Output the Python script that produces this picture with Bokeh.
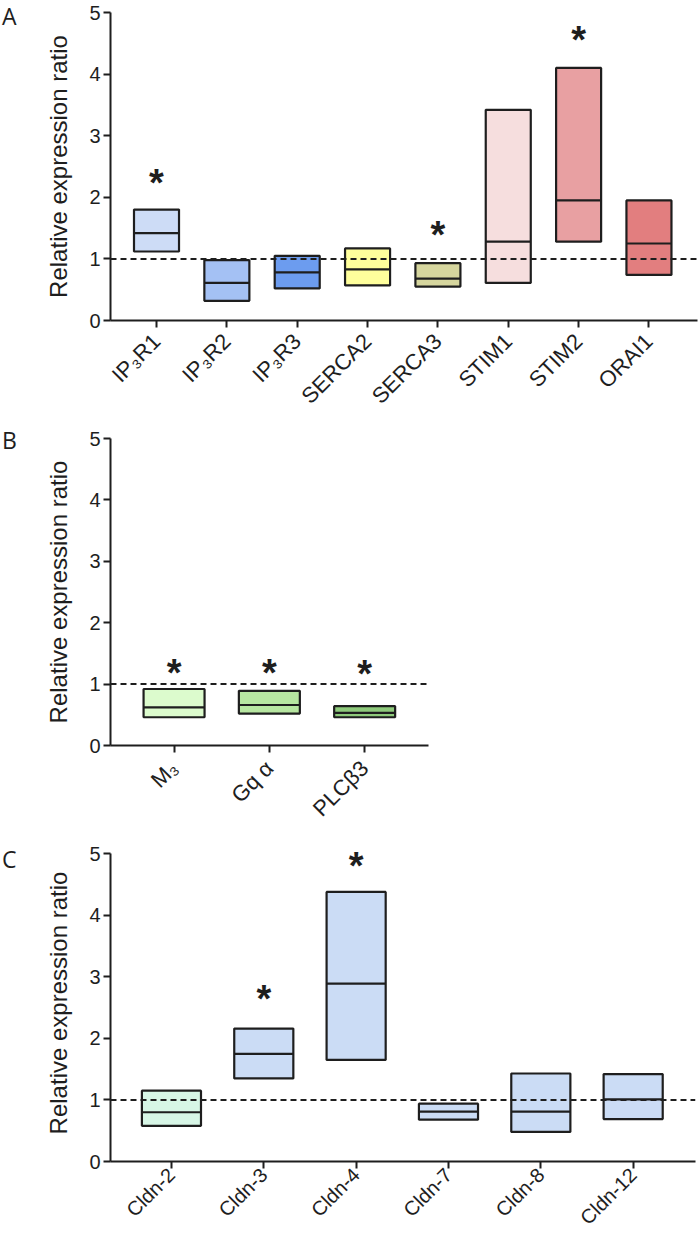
import math
from bokeh.plotting import figure
from bokeh.models import ColumnDataSource, Range1d, FixedTicker, Span, Div
from bokeh.layouts import column, row
from bokeh.core.properties import value
from bokeh.embed import file_html
from bokeh.resources import INLINE

# ---- Panel A: calcium signalling genes ----
genes_a = ["IP\u2083R1", "IP\u2083R2", "IP\u2083R3", "SERCA2", "SERCA3", "STIM1", "STIM2", "ORAI1"]
low_a = [1.12, 0.32, 0.52, 0.57, 0.55, 0.61, 1.28, 0.74]
mid_a = [1.42, 0.61, 0.78, 0.83, 0.68, 1.28, 1.95, 1.25]
high_a = [1.80, 0.98, 1.05, 1.17, 0.93, 3.42, 4.10, 1.95]
colors_a = ["#cddcf6", "#a4c1f4", "#6c9cef", "#ffff9c", "#d6d69e", "#f6dede", "#e8a0a2", "#e27e7f"]
star_a = [2.32, None, None, None, 1.47, None, 4.64, None]

# ---- Panel B: receptor / G-protein pathway ----
genes_b = ["M\u2083", "Gq \u03b1", "PLC\u03b23"]
low_b = [0.46, 0.52, 0.46]
mid_b = [0.62, 0.66, 0.53]
high_b = [0.92, 0.89, 0.64]
colors_b = ["#dcfbcd", "#b7e6a1", "#8fcb7c"]
star_b = [1.27, 1.27, 1.25]

# ---- Panel C: claudins ----
genes_c = ["Cldn-2", "Cldn-3", "Cldn-4", "Cldn-7", "Cldn-8", "Cldn-12"]
low_c = [0.58, 1.35, 1.65, 0.68, 0.48, 0.69]
mid_c = [0.80, 1.75, 2.89, 0.81, 0.81, 1.01]
high_c = [1.15, 2.16, 4.38, 0.94, 1.43, 1.42]
colors_c = ["#d7f6e6", "#cbdcf5", "#cbdcf5", "#cbdcf5", "#cbdcf5", "#cbdcf5"]
star_c = [None, 2.72, 4.89, None, None, None]

FONT = "Liberation Sans"
INK = "#1e1e1e"
BOX_W = 0.64
LETTER_W = 30
UNIT_PX = 61.6  # vertical pixels per unit of ratio


def panel(letter, letter_top, genes, low, mid, high, colors, stars, frame_w,
          pad_l, pad_r, height, top5, bottom, label_gap, label_size, y_max=5.0):
    n = len(genes)
    xs = list(range(n))
    x0, x1 = -pad_l, (n - 1) + pad_r
    frame_h = round(UNIT_PX * y_max)
    top = round(top5 - UNIT_PX * (y_max - 5))
    p = figure(width=80 + frame_w + 2, height=height,
               x_range=Range1d(x0, x1), y_range=Range1d(0, y_max),
               output_backend="svg", toolbar_location=None,
               min_border_left=80, min_border_right=2,
               min_border_top=top, min_border_bottom=bottom)
    p.outline_line_color = None
    p.xgrid.visible = False
    p.ygrid.visible = False
    p.background_fill_color = "white"

    # reference level at ratio = 1
    p.add_layout(Span(location=1, dimension="width", line_color=INK,
                      line_width=2, line_dash="6 4"))

    src = ColumnDataSource(dict(
        x=xs, low=low, mid=mid, high=high, color=colors,
        l=[x - BOX_W / 2 for x in xs], r=[x + BOX_W / 2 for x in xs]))
    p.vbar(x="x", width=BOX_W, bottom="low", top="high", source=src,
           fill_color="color", line_color=INK, line_width=2.2)
    p.segment(x0="l", x1="r", y0="mid", y1="mid", source=src,
              line_color=INK, line_width=2.2)

    sx = [x for x, s in zip(xs, stars) if s is not None]
    sy = [s for s in stars if s is not None]
    p.text(x=sx, y=sy, text=["*"] * len(sx), text_font=value(FONT),
           text_font_size="38px", text_font_style="bold", text_color=INK,
           text_align="center", text_baseline="middle", y_offset=5)

    # axes
    ya = p.yaxis[0]
    ya.bounds = (0, 5)
    ya.ticker = FixedTicker(ticks=[0, 1, 2, 3, 4, 5])
    ya.axis_label = "Relative expression ratio"
    ya.axis_label_text_font = FONT
    ya.axis_label_text_font_size = "24px"
    ya.axis_label_text_font_style = "normal"
    ya.axis_label_text_color = INK
    ya.axis_label_standoff = 14
    ya.major_label_text_font = FONT
    ya.major_label_text_font_size = "20px"
    ya.major_label_text_color = INK
    ya.major_label_standoff = 3

    xa = p.xaxis[0]
    xa.ticker = FixedTicker(ticks=xs)
    xa.major_label_overrides = {i: g for i, g in enumerate(genes)}
    xa.major_label_orientation = math.pi / 4
    xa.major_label_text_font = FONT
    xa.major_label_text_font_size = label_size
    xa.major_label_text_color = INK
    xa.major_label_standoff = label_gap

    for ax in (xa, ya):
        ax.axis_line_width = 2
        ax.axis_line_color = INK
        ax.major_tick_line_width = 2
        ax.major_tick_line_color = INK
        ax.major_tick_in = 0
        ax.major_tick_out = 7
        ax.minor_tick_line_color = None

    # panel letter in the left margin
    tag = Div(text=letter, width=LETTER_W - 2, height=36, margin=(letter_top, 0, 0, 2),
              styles={"font-family": "Open Sans", "font-size": "23px",
                      "line-height": "1.4", "color": INK})
    return row(tag, p, spacing=0)


pa = panel("A", 0, genes_a, low_a, mid_a, high_a, colors_a, star_a,
           frame_w=587, pad_l=0.654, pad_r=0.69, height=420, top5=12,
           bottom=100, label_gap=10, label_size="22px")
pb = panel("B", 4, genes_b, low_b, mid_b, high_b, colors_b, star_b,
           frame_w=318, pad_l=0.667, pad_r=0.67, height=420, top5=18,
           bottom=95, label_gap=12, label_size="22px")
pc = panel("C", 3, genes_c, low_c, mid_c, high_c, colors_c, star_c,
           frame_w=585, pad_l=0.66, pad_r=0.675, height=401, top5=13,
           bottom=80, label_gap=3, label_size="20px", y_max=5.15)

layout = column(pa, pb, pc, spacing=0)
open("out.html", "w").write(file_html(layout, INLINE))
